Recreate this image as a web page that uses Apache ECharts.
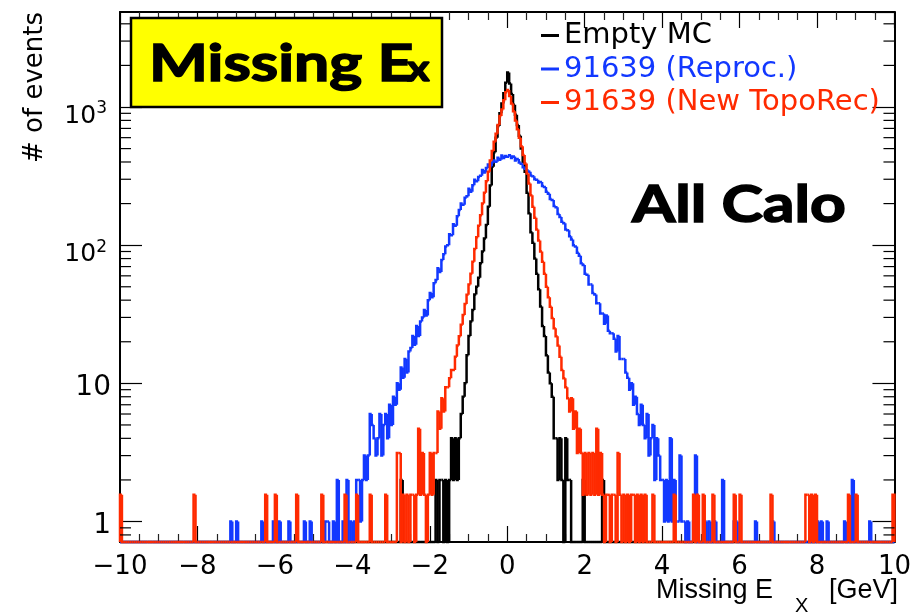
<!DOCTYPE html>
<html>
<head>
<meta charset="utf-8">
<script src="https://cdn.jsdelivr.net/npm/echarts@6/dist/echarts.min.js"></script>
<style>
  html, body { margin: 0; padding: 0; background: #fff; }
  #chart { width: 914px; height: 616px; }
</style>
</head>
<body>
<div id="chart"></div>
<script>
// Histogram binning: 400 bins of 0.05 GeV from -10 to 10 GeV
const binEdges = Array.from({ length: 401 }, (_, i) => +(-10 + i * 0.05).toFixed(2));

// Empty MC (each event weighted by 2); one line per 1 GeV (20 bins)
const emptyMC = [
  0,0,0,0,0,0,0,0,0,0,0,0,0,0,0,0,0,0,0,0,
  0,0,0,0,0,0,0,0,0,0,0,0,0,0,0,0,0,0,0,0,
  0,0,0,0,0,0,0,0,0,0,0,0,0,0,0,0,0,0,0,0,
  0,0,0,0,0,0,0,0,0,0,0,0,0,0,0,0,0,0,0,0,
  0,0,0,0,0,0,0,0,0,0,0,0,0,0,0,0,0,0,0,0,
  0,0,0,0,0,0,0,0,0,0,0,0,0,0,0,0,0,0,0,0,
  0,0,0,0,0,0,0,0,0,0,0,0,0,0,0,0,0,0,0,0,
  0,0,0,0,0,2,0,0,0,0,0,0,0,0,0,0,0,0,0,0,
  0,0,0,2,0,2,2,0,2,0,2,4,2,4,2,4,6,8,10,16,
  22,28,34,44,50,58,74,90,112,140,190,270,370,470,600,730,900,1060,1260,1500,
  1780,1480,1240,1040,880,740,620,500,400,340,240,170,124,104,80,62,48,36,26,22,
  16,12,10,8,4,4,2,4,2,0,4,2,2,0,0,0,0,0,0,2,
  0,0,0,0,0,0,0,0,0,2,0,0,0,0,0,0,0,0,0,0,
  0,0,0,0,0,0,0,0,0,0,0,0,0,0,0,0,0,0,0,0,
  0,0,0,0,0,0,0,0,0,0,0,0,0,0,0,0,0,0,0,0,
  0,0,0,0,0,0,0,0,0,0,0,0,0,0,0,0,0,0,0,0,
  0,0,0,0,0,0,0,0,0,0,0,0,0,0,0,0,0,0,0,0,
  0,0,0,0,0,0,0,0,0,0,0,0,0,0,0,0,0,0,0,0,
  0,0,0,0,0,0,0,0,0,0,0,0,0,0,0,0,0,0,0,0,
  0,0,0,0,0,0,0,0,0,0,0,0,0,0,0,0,0,0,0,0
];

// Run 91639, reprocessed
const reproc = [
  0,0,0,0,0,0,0,0,0,0,0,0,0,0,0,0,0,0,0,0,
  0,0,0,0,0,0,0,0,0,0,0,0,0,0,0,0,0,0,0,0,
  0,0,0,0,0,0,0,0,0,0,0,0,0,0,0,0,0,1,0,0,
  1,0,0,0,0,0,0,0,0,0,0,0,0,1,0,0,0,0,0,1,
  0,0,1,0,0,0,0,1,0,0,0,0,0,0,0,1,0,0,1,0,
  0,0,0,0,1,0,1,1,0,0,1,0,2,0,0,1,0,2,0,1,
  0,1,2,2,1,2,3,2,3,6,5,4,3,4,6,3,5,6,4,7,
  5,8,7,10,9,13,11,15,12,17,18,22,19,26,22,28,30,34,31,40,
  45,42,53,56,68,64,78,86,98,100,120,118,142,138,162,180,200,196,220,226,
  256,244,272,298,290,312,318,350,336,362,384,372,396,410,402,430,416,446,428,442,
  436,448,428,438,410,420,396,388,366,358,348,340,320,316,300,298,284,286,268,264,
  244,236,216,212,192,188,168,160,148,144,130,128,116,110,100,98,88,84,74,72,
  62,61,52,52,45,44,38,38,32,32,27,31,24,23,23,21,17,22,15,15,
  15,12,11,9,10,7,8,6,5,7,5,4,6,3,4,5,2,4,3,2,
  2,1,2,1,4,1,2,1,1,3,1,1,0,1,0,0,1,3,0,0,
  0,0,1,0,1,0,0,1,0,0,0,2,0,0,0,0,0,1,1,0,
  0,0,0,0,0,0,0,0,1,0,0,0,0,0,0,0,0,1,0,0,
  0,0,0,0,0,0,0,0,0,0,0,0,0,0,0,0,0,0,0,0,
  1,0,1,0,0,1,0,0,0,0,0,0,0,0,1,0,0,0,2,0,
  0,0,0,0,0,0,0,1,0,0,0,0,0,0,0,0,0,0,0,0
];

// Run 91639, new topological reconstruction (weighted events)
const newTopoRec = [
  1.56,0,0,0,0,0,0,0,0,0,0,0,0,0,0,0,0,0,0,0,
  0,0,0,0,0,0,0,0,0,0,0,0,0,0,0,0,0,0,1.56,0,
  0,0,0,0,0,0,0,0,0,0,0,0,0,0,0,0,0,0,0,0,
  0,0,0,0,0,0,0,0,0,0,0,0,0,0,0,1.56,0,0,0,0,
  1.56,0,0,0,0,0,0,0,0,0,0,1.56,0,0,0,0,0,0,0,0,
  0,0,0,0,1.56,0,0,0,0,0,0,0,0,0,0,0,1.56,0,0,0,
  0,0,1.56,0,0,0,0,0,0,1.56,0,0,0,0,0,0,0,1.56,0,0,
  0,0,0,3.13,3.13,0,1.56,0,1.56,0,1.56,1.56,0,1.56,4.69,1.56,3.13,1.56,0,1.56,
  3.13,1.56,3.13,3.13,6.25,4.69,7.81,6.25,9.38,9.38,10.9,12.5,12.5,15.6,18.8,21.9,26.6,31.3,37.5,43.8,
  52,62,76,94,114,138,165,200,240,290,340,410,480,560,640,740,860,960,1120,1280,
  1330,1200,1060,930,800,690,600,520,450,390,330,280,230,190,158,130,108,90,76,62,
  50,42,35.9,29.7,25,21.9,18.8,15.6,12.5,10.9,9.38,7.81,6.25,7.81,4.69,6.25,3.13,4.69,3.13,1.56,
  3.13,1.56,3.13,1.56,3.13,1.56,4.69,1.56,3.13,1.56,0,1.56,1.56,0,1.56,1.56,0,3.13,1.56,0,
  1.56,0,1.56,0,1.56,1.56,0,1.56,0,1.56,0,1.56,0,0,0,1.56,0,0,0,0,
  0,0,0,0,0,0,1.56,0,0,0,0,0,0,0,0,0,1.56,0,1.56,0,
  0,1.56,0,0,0,0,1.56,0,0,0,0,0,0,0,0,0,0,1.56,0,0,
  1.56,0,0,0,0,0,0,0,0,0,0,0,0,0,0,0,1.56,0,0,0,
  0,0,0,0,0,0,0,0,0,0,0,0,0,0,1.56,1.56,0,1.56,0,1.56,
  0,0,0,0,0,0,0,0,0,0,0,0,0,0,0,0,1.56,0,0,0,
  1.56,0,0,0,0,0,0,0,0,0,0,0,0,0,0,0,0,0,0,1.56
];

// Axis tick values
const xTicks = [-10, -8, -6, -4, -2, 0, 2, 4, 6, 8, 10];
const yMinorTicks = [0.8, 0.9, 2, 3, 4, 5, 6, 7, 8, 9, 20, 30, 40, 50, 60, 70, 80, 90,
                     200, 300, 400, 500, 600, 700, 800, 900, 2000, 3000, 4000];

const BLUE = '#1238ff';
const RED = '#ff2a00';
const FONT = '"DejaVu Sans", sans-serif';
const HELV = '"Liberation Sans", Arial, sans-serif';

const histograms = [
  { name: 'Empty MC', counts: emptyMC, color: '#000000' },
  { name: '91639 (Reproc.)', counts: reproc, color: BLUE },
  { name: '91639 (New TopoRec)', counts: newTopoRec, color: RED }
];

// one item per bin: [low edge, high edge, content, previous content, last-bin flag]
function binItems(counts) {
  return counts.map((c, i) => [binEdges[i], binEdges[i + 1], c, i > 0 ? counts[i - 1] : 0,
                               i === counts.length - 1 ? 1 : 0]);
}

// step outline of a histogram; empty bins sit on the lower frame edge
function histRenderer(color) {
  return function (params, api) {
    const cs = params.coordSys;
    const base = cs.y + cs.height;
    const lo = api.value(0), hi = api.value(1);
    const x0 = api.coord([lo, 1])[0];
    const x1 = api.coord([hi, 1])[0];
    const yAt = n => (n > 0 ? api.coord([lo, n])[1] : base);
    const y = yAt(api.value(2));
    const yPrev = yAt(api.value(3));
    const pts = [[x0, yPrev], [x0, y], [x1, y]];
    if (api.value(4)) pts.push([x1, base]);
    return {
      type: 'polyline',
      shape: { points: pts },
      style: { stroke: color, lineWidth: 2.5, fill: null, lineJoin: 'miter' }
    };
  };
}

// logarithmic minor ticks on both vertical frame edges
function minorTickRenderer(params, api) {
  const cs = params.coordSys;
  const y = api.coord([api.value(0), api.value(1)])[1];
  const st = { stroke: '#000', lineWidth: 1.2 };
  return {
    type: 'group',
    children: [
      { type: 'line', shape: { x1: cs.x, y1: y, x2: cs.x + 11, y2: y }, style: st },
      { type: 'line', shape: { x1: cs.x + cs.width - 11, y1: y, x2: cs.x + cs.width, y2: y }, style: st }
    ]
  };
}

const xAxisCommon = {
  type: 'value', min: -10, max: 10, interval: 2,
  axisLine: { show: true, onZero: false, lineStyle: { color: '#000', width: 2 } },
  axisTick: { show: true, inside: true, length: 16, lineStyle: { color: '#000', width: 1.2 } },
  minorTick: { show: true, splitNumber: 4, length: 8, lineStyle: { color: '#222', width: 1.2 } },
  splitLine: { show: false }, minorSplitLine: { show: false }
};

const yAxisCommon = {
  type: 'log', logBase: 10, min: 0.711, max: 4870,
  axisLine: { show: true, onZero: false, lineStyle: { color: '#000', width: 2 } },
  axisTick: { show: true, inside: true, length: 22, lineStyle: { color: '#000', width: 1.2 } },
  splitLine: { show: false }
};

const chart = echarts.init(document.getElementById('chart'), null, { renderer: 'canvas' });

chart.setOption({
  animation: false,
  backgroundColor: '#fff',
  grid: { left: 120, top: 12, width: 776, height: 530 },
  xAxis: [
    Object.assign({}, xAxisCommon, {
      position: 'bottom',
      axisLabel: {
        show: true, margin: 12, fontFamily: FONT, fontSize: 26, color: '#000',
        formatter: v => (xTicks.includes(v) ? (v < 0 ? '\u2212' + Math.abs(v) : String(v)) : '')
      }
    }),
    Object.assign({}, xAxisCommon, { position: 'top', axisLabel: { show: false } })
  ],
  yAxis: [
    Object.assign({}, yAxisCommon, {
      position: 'left',
      axisLabel: {
        show: true, margin: 9, showMinLabel: false, showMaxLabel: false,
        fontFamily: FONT, fontSize: 28, color: '#000',
        formatter: v => {
          const l = Math.log10(v), e = Math.round(l);
          if (Math.abs(l - e) > 1e-6) return '';
          if (e === 0) return '{n|1}';
          if (e === 1) return '{n|10}';
          return '{b|10}{s|' + e + '}';
        },
        rich: {
          n: { fontFamily: FONT, fontSize: 28, color: '#000', padding: [9, 0, 0, 0] },
          b: { fontFamily: FONT, fontSize: 25, color: '#000', padding: [18, 0, 0, 0], verticalAlign: 'bottom' },
          s: { fontFamily: FONT, fontSize: 17, color: '#000', padding: [15, 4, 0, 0], verticalAlign: 'top' }
        }
      }
    }),
    Object.assign({}, yAxisCommon, { position: 'right', axisLabel: { show: false } })
  ],
  legend: {
    orient: 'vertical', left: 541, top: 21, padding: 0,
    itemWidth: 18, itemHeight: 3, itemGap: 4.5, icon: 'rect', selectedMode: false,
    textStyle: { fontFamily: FONT, fontSize: 29 },
    data: histograms.map(h => ({ name: h.name, textStyle: { color: h.color } }))
  },
  series: histograms.map(h => ({
    name: h.name,
    type: 'custom',
    xAxisIndex: 0, yAxisIndex: 0,
    silent: true,
    itemStyle: { color: h.color },
    encode: { x: [0, 1], y: [2, 3] },
    renderItem: histRenderer(h.color),
    data: binItems(h.counts)
  })).concat([{
    name: 'minor ticks',
    type: 'custom',
    xAxisIndex: 0, yAxisIndex: 0,
    silent: true,
    encode: { x: 0, y: 1 },
    renderItem: minorTickRenderer,
    data: yMinorTicks.map(v => [-10, v])
  }]),
  graphic: [
    { type: 'rect', shape: { x: 131, y: 18, width: 311, height: 89 },
      style: { fill: '#ffff00', stroke: '#000', lineWidth: 2.5 }, z: 10 },
    { type: 'text', x: 149, y: 64, scaleX: 1.2, z: 11,
      style: { text: 'Missing E', fill: '#000', stroke: '#000', lineWidth: 1.5,
               font: 'bold 52px Lato, sans-serif', align: 'left', verticalAlign: 'middle' } },
    { type: 'text', x: 407, y: 69, scaleX: 1.2, z: 11,
      style: { text: 'x', fill: '#000', stroke: '#000', lineWidth: 1.5,
               font: 'bold 36px Lato, sans-serif', align: 'left', verticalAlign: 'middle' } },
    { type: 'text', x: 632, y: 205, scaleX: 1.2, z: 11,
      style: { text: 'All Calo', fill: '#000', stroke: '#000', lineWidth: 1.5,
               font: 'bold 52px Lato, sans-serif', align: 'left', verticalAlign: 'middle' } },
    { type: 'text', x: 35, y: 12, rotation: Math.PI / 2, z: 11,
      style: { text: '# of events', fill: '#000', font: '26px ' + FONT,
               align: 'right', verticalAlign: 'middle' } },
    { type: 'text', x: 773, y: 591, z: 11,
      style: { text: 'Missing E', fill: '#000', font: '27px ' + HELV,
               align: 'right', verticalAlign: 'middle' } },
    { type: 'text', x: 795, y: 606, z: 11,
      style: { text: 'X', fill: '#000', font: '20px ' + HELV,
               align: 'left', verticalAlign: 'middle' } },
    { type: 'text', x: 898, y: 591, z: 11,
      style: { text: '[GeV]', fill: '#000', font: '27px ' + HELV,
               align: 'right', verticalAlign: 'middle' } }
  ]
});
</script>
</body>
</html>
